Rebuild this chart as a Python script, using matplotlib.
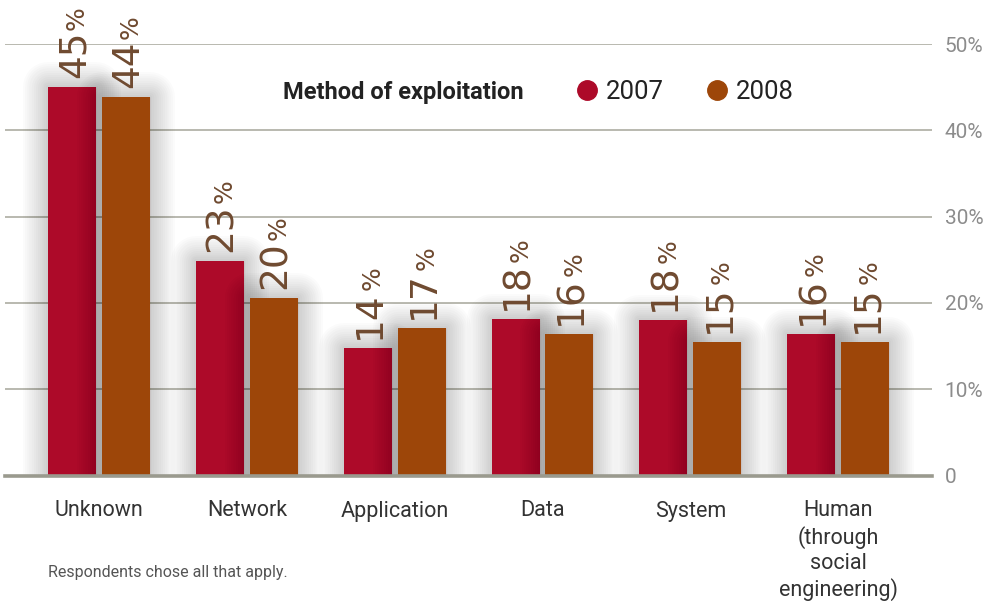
import matplotlib
matplotlib.use("Agg")
import matplotlib.pyplot as plt
import matplotlib.patheffects as pe
import numpy as np

# data
categories = ["Unknown", "Network", "Application", "Data", "System",
              "Human\n(through\nsocial\nengineering)"]
vals_2007 = [45.0, 24.9, 14.8, 18.1, 18.0, 16.4]
vals_2008 = [43.9, 20.6, 17.1, 16.4, 15.5, 15.5]
labels_2007 = ["45", "23", "14", "18", "18", "16"]
labels_2008 = ["44", "20", "17", "16", "15", "15"]
yticks = [0, 10, 20, 30, 40, 50]
ytick_labels = ["0", "10%", "20%", "30%", "40%", "50%"]

c2007 = "#ad0a29"
c2008 = "#9d4609"
label_col = "#6f4a30"
text_font = ["Roboto", "DejaVu Sans"]

W, H = 993, 601
fig = plt.figure(figsize=(W / 100, H / 100), dpi=100)
fig.patch.set_facecolor("white")
ax = fig.add_axes([5 / W, (H - 475.5) / H, 927 / W, 431.5 / H])

x = np.arange(len(categories))
bw = 0.325
off = 0.182

# soft glow around the bars, built from stacked translucent strokes
glow = [pe.withStroke(linewidth=lw, foreground="black", alpha=0.014,
                      joinstyle="round")
        for lw in range(36, 0, -3)] + [pe.Normal()]

b1 = ax.bar(x - off, vals_2007, bw, color=c2007, path_effects=glow, zorder=2)
b2 = ax.bar(x + off, vals_2008, bw, color=c2008, path_effects=glow, zorder=2)

ax.set_xlim(-0.637, 5.635)
ax.set_ylim(0, 50)

# grid + baseline
for t in yticks[1:]:
    ax.axhline(t, color="#b3b3a9", lw=1.3, zorder=1)
ax.axhline(0, color="#9a9a8e", lw=2.6, zorder=3, clip_on=False)

for s in ax.spines.values():
    s.set_visible(False)

ax.yaxis.tick_right()
ax.set_yticks(yticks, ytick_labels)
ax.tick_params(axis="y", length=0, pad=9, labelsize=15, labelcolor="#8c8c8c")
ax.set_xticks(x, categories)
ax.tick_params(axis="x", length=0, pad=18, labelsize=15.5, labelcolor="#333333")
for lab in ax.get_xticklabels():
    lab.set_family(text_font)
    lab.set_linespacing(1.25)
    lab.set_verticalalignment("top")
for lab in ax.get_yticklabels():
    lab.set_family(text_font)

# rotated value labels, big number with a smaller percent sign
for bars, labs in ((b1, labels_2007), (b2, labels_2008)):
    for bar, lab in zip(bars, labs):
        cx = bar.get_x() + bar.get_width() / 2
        num = ax.annotate(lab, (cx, bar.get_height()), xytext=(1.5, 6.5),
                          textcoords="offset points", rotation=90,
                          ha="center", va="bottom", fontsize=27,
                          color=label_col, annotation_clip=False)
        ax.annotate("%", (1, 1), xycoords=num, xytext=(-2.4, 0.5),
                    textcoords="offset points", rotation=90,
                    ha="right", va="bottom", fontsize=18, color=label_col,
                    annotation_clip=False)

# legend drawn by hand
fig.text(283 / W, 1 - 99 / H, "Method of exploitation", fontsize=17,
         fontweight="bold", color="#222222", va="baseline", family=text_font)
for cx, col, yr in ((587, c2007, "2007"), (717, c2008, "2008")):
    fig.lines.append(plt.Line2D([cx / W], [1 - 90 / H], marker="o",
                                markersize=14, color=col, lw=0,
                                transform=fig.transFigure))
    fig.text((cx + 19) / W, 1 - 99 / H, yr, fontsize=18.5, color="#222222",
             va="baseline", family=text_font)

fig.text(48 / W, 1 - 577 / H, "Respondents chose all that apply.",
         fontsize=11.5, color="#555555", family=text_font)

fig.savefig("out.png", dpi=100, facecolor="white")
